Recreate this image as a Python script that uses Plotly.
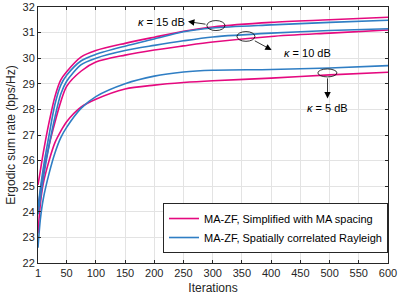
import plotly.graph_objects as go

iterations = [1, 5, 10, 20, 30, 40, 50, 75, 100, 150, 200, 250, 300, 400, 500, 600]

pink_k15 = [25.05, 25.6, 26.3, 27.5, 28.5, 29.15, 29.47, 30.05, 30.3, 30.58, 30.82, 31.05, 31.22, 31.4, 31.5, 31.6]
pink_k10 = [24.0, 24.8, 25.5, 26.6, 27.5, 28.3, 28.9, 29.5, 29.85, 30.12, 30.32, 30.48, 30.63, 30.85, 30.98, 31.1]
pink_k5 = [23.15, 24.3, 25.1, 26.0, 26.7, 27.15, 27.52, 28.1, 28.4, 28.8, 28.95, 29.05, 29.12, 29.22, 29.35, 29.45]

blue_k15 = [24.2, 24.9, 25.7, 27.0, 28.2, 28.95, 29.33, 29.9, 30.15, 30.47, 30.75, 31.03, 31.18, 31.3, 31.4, 31.48]
blue_k10 = [23.9, 24.5, 25.3, 26.6, 27.7, 28.6, 29.1, 29.75, 30.0, 30.3, 30.5, 30.68, 30.83, 30.98, 31.08, 31.15]
blue_k5 = [22.6, 23.7, 24.5, 25.5, 26.3, 26.9, 27.3, 28.05, 28.5, 29.0, 29.3, 29.46, 29.53, 29.56, 29.62, 29.71]

x_ticks = [1, 50, 100, 150, 200, 250, 300, 350, 400, 450, 500, 550, 600]
y_ticks = [22, 23, 24, 25, 26, 27, 28, 29, 30, 31, 32]

legend_names = ["MA-ZF, Simplified with MA spacing", "MA-ZF, Spatially correlated Rayleigh"]

PINK = "#E5097F"
BLUE = "#2F7EC4"
FONT = "Liberation Sans"

fig = go.Figure()
for i, ys in enumerate([pink_k15, pink_k10, pink_k5]):
    fig.add_trace(go.Scatter(x=iterations, y=ys, mode="lines",
                             line=dict(color=PINK, width=1.6, shape="spline", smoothing=0.8),
                             name=legend_names[0], legendgroup="pink", showlegend=(i == 0)))
for i, ys in enumerate([blue_k15, blue_k10, blue_k5]):
    fig.add_trace(go.Scatter(x=iterations, y=ys, mode="lines",
                             line=dict(color=BLUE, width=1.6, shape="spline", smoothing=0.8),
                             name=legend_names[1], legendgroup="blue", showlegend=(i == 0)))

# ellipses
ellipses = [(290, 321, 31.08, 31.47), (341.5, 372.3, 30.66, 31.04), (480, 512.6, 29.27, 29.58)]
for x0, x1, y0, y1 in ellipses:
    fig.add_shape(type="circle", xref="x", yref="y", x0=x0, x1=x1, y0=y0, y1=y1,
                  line=dict(color="black", width=0.8))

# arrows (head at x,y; tail at ax,ay)
arrows = [(257.7, 31.43, 290.2, 31.32), (400.9, 30.32, 369.5, 30.71), (496.5, 28.43, 496.5, 29.27)]
for hx, hy, tx, ty in arrows:
    fig.add_annotation(x=hx, y=hy, ax=tx, ay=ty, xref="x", yref="y", axref="x", ayref="y",
                       text="", showarrow=True, arrowhead=2, arrowsize=1.6, arrowwidth=0.8,
                       arrowcolor="black")

labels = [("<i>κ</i> = 15 dB", 256, 31.43, "right"),
          ("<i>κ</i> = 10 dB", 418.6, 30.22, "left"),
          ("<i>κ</i> = 5 dB", 497.3, 28.05, "center")]
for txt, x, y, anc in labels:
    fig.add_annotation(x=x, y=y, xref="x", yref="y", text=txt, showarrow=False,
                       xanchor=anc, yanchor="middle",
                       font=dict(family=FONT, size=11, color="black"))

axis_common = dict(showline=True, linecolor="#262626", linewidth=1, mirror="ticks",
                   ticks="inside", ticklen=3, tickcolor="#262626",
                   showgrid=True, gridcolor="#E3E3E3", gridwidth=1, zeroline=False,
                   tickfont=dict(family=FONT, size=11, color="#262626"))

fig.update_xaxes(range=[1, 600], tickvals=x_ticks, ticktext=[str(v) for v in x_ticks],
                 title=dict(text="Iterations", font=dict(family=FONT, size=12, color="#262626"),
                            standoff=5), **axis_common)
fig.update_yaxes(range=[22, 32], tickvals=y_ticks,
                 title=dict(text="Ergodic sum rate (bps/Hz)",
                            font=dict(family=FONT, size=12, color="#262626"), standoff=4),
                 **axis_common)

fig.update_layout(
    width=399, height=299,
    margin=dict(l=38, r=11, t=7, b=36, autoexpand=False),
    paper_bgcolor="white", plot_bgcolor="white",
    font=dict(family=FONT, color="#262626"),
    legend=dict(x=1, y=0.039, xanchor="right", yanchor="bottom",
                bgcolor="white", bordercolor="#262626", borderwidth=1,
                font=dict(family=FONT, size=11, color="black"),
                itemwidth=30, tracegroupgap=0),
    showlegend=True,
)

fig.write_html("out.html",
               config={"displayModeBar": False},
               post_script="document.body.style.margin='0px';document.body.style.overflow='hidden';")
